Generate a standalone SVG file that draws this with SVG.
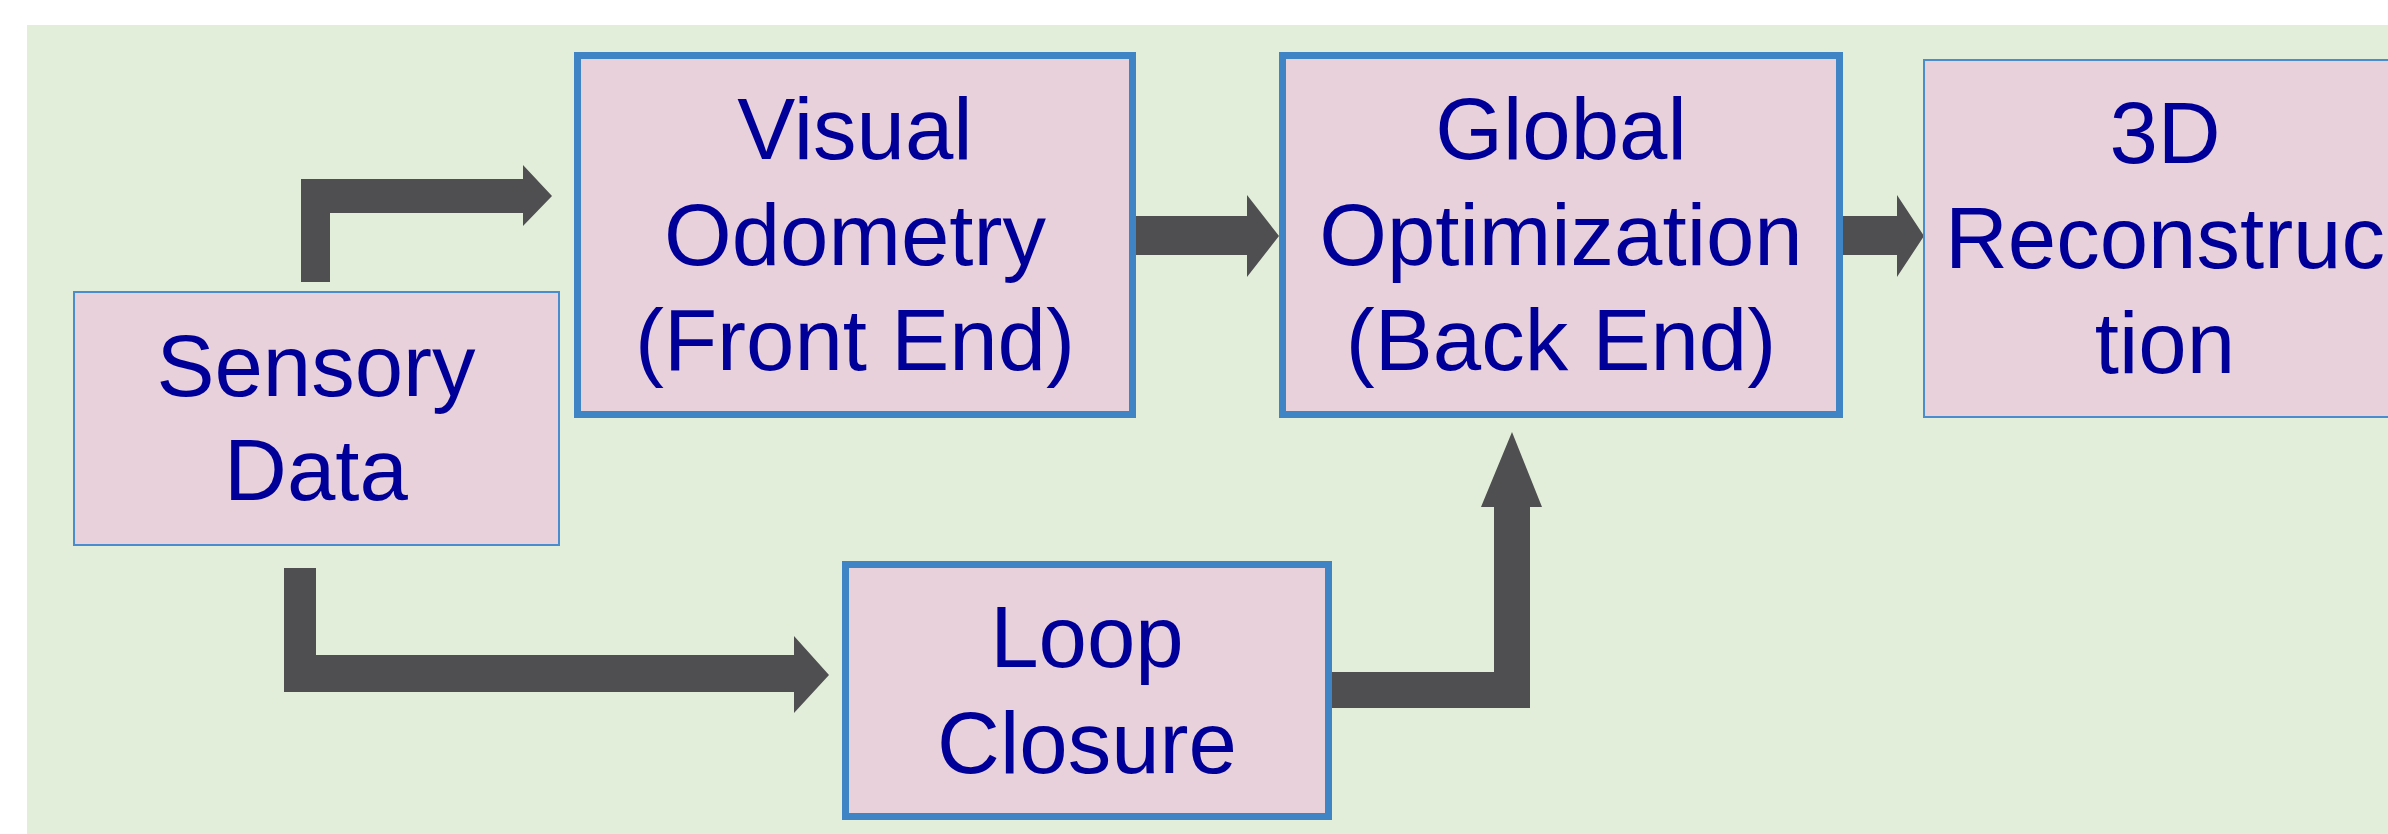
<svg xmlns="http://www.w3.org/2000/svg" width="2388" height="834" viewBox="0 0 2388 834">
<style>
.bg{fill:#e2eed9}
.box{fill:#e9d1dc}
.thick{stroke:#3f85c6;stroke-width:7}
.thin{stroke:#4a8cd0;stroke-width:2}
.lbl{font-family:"Liberation Sans",Arial,sans-serif;font-size:87px;fill:#000099;text-anchor:middle}
.arr{fill:#4f4f52}
</style>
<rect x="0" y="0" width="2388" height="834" fill="#ffffff"/>
<rect class="bg" x="27" y="25" width="2361" height="809"/>
<g id="connectors">
<polygon class="arr" points="301,282 301,179 523,179 523,165 552,196 523,226 523,213 330,213 330,282"/>
<polygon class="arr" points="1136,216 1247,216 1247,195 1279,236 1247,277 1247,255 1136,255"/>
<polygon class="arr" points="1843,216 1897,216 1897,195 1924,236 1897,277 1897,255 1843,255"/>
<polygon class="arr" points="284,568 316,568 316,655 794,655 794,636 829,675 794,713 794,692 284,692"/>
<polygon class="arr" points="1332,672 1494,672 1494,507 1481,507 1512,432 1542,507 1530,507 1530,708 1332,708"/>
</g>
<g id="sensory">
<rect class="box thin" x="74" y="292" width="485" height="253"/>
<text class="lbl" x="316" y="396">Sensory</text>
<text class="lbl" x="316" y="500">Data</text>
</g>
<g id="vo">
<rect class="box thick" x="577.5" y="55.5" width="555" height="359"/>
<text class="lbl" x="855" y="159">Visual</text>
<text class="lbl" x="855" y="265">Odometry</text>
<text class="lbl" x="855" y="370">(Front End)</text>
</g>
<g id="global">
<rect class="box thick" x="1282.5" y="55.5" width="557" height="359"/>
<text class="lbl" x="1561" y="159">Global</text>
<text class="lbl" x="1561" y="265">Optimization</text>
<text class="lbl" x="1561" y="370">(Back End)</text>
</g>
<g id="recon">
<rect class="box thin" x="1924" y="60" width="480" height="357"/>
<text class="lbl" x="2165" y="163">3D</text>
<text class="lbl" x="2165" y="268">Reconstruc</text>
<text class="lbl" x="2165" y="373">tion</text>
</g>
<g id="loop">
<rect class="box thick" x="845.5" y="564.5" width="483" height="252"/>
<text class="lbl" x="1087" y="667">Loop</text>
<text class="lbl" x="1087" y="773">Closure</text>
</g>
</svg>
